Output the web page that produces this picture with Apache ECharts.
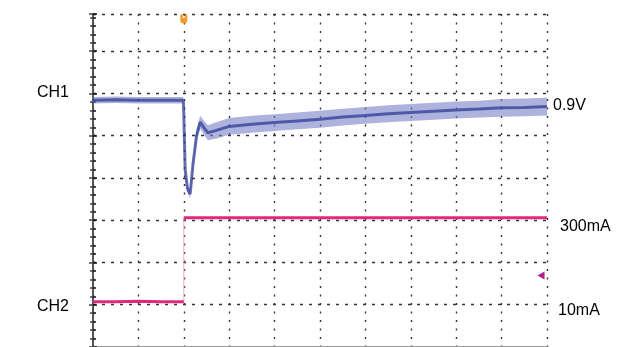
<!DOCTYPE html>
<html>
<head>
<meta charset="utf-8">
<script src="https://cdn.jsdelivr.net/npm/echarts@6/dist/echarts.min.js"></script>
<style>html,body{margin:0;padding:0;background:#fff}#c{width:630px;height:347px}</style>
</head>
<body>
<div id="c"></div>
<script>
// Time in divisions, values in vertical divisions (0 = bottom grid line)
var ch1Time   = [0, 0.5, 1, 1.5, 1.99, 2.0, 2.03, 2.08, 2.14, 2.2, 2.28, 2.36, 2.45, 2.53, 2.7, 3.0, 3.5, 4.0, 4.5, 5.0, 5.5, 6.0, 6.5, 7.0, 7.5, 8.0, 8.5, 9.0, 9.5, 10];
var ch1Center = [5.84, 5.85, 5.84, 5.84, 5.84, 5.5, 4.2, 3.75, 3.62, 4.3, 5.0, 5.32, 5.18, 5.07, 5.12, 5.22, 5.27, 5.31, 5.35, 5.39, 5.44, 5.48, 5.52, 5.55, 5.58, 5.61, 5.63, 5.66, 5.67, 5.69];
var ch1Half   = [0.075, 0.075, 0.075, 0.075, 0.075, 0.03, 0.05, 0.08, 0.1, 0.11, 0.13, 0.15, 0.17, 0.18, 0.19, 0.2, 0.2, 0.2, 0.2, 0.2, 0.2, 0.2, 0.2, 0.2, 0.2, 0.2, 0.2, 0.21, 0.21, 0.21];
var ch2PreTime = [0, 0.5, 1, 1.5, 2.0];
var ch2PreVal  = [1.07, 1.07, 1.08, 1.07, 1.07];
var ch2PostTime = [2.0, 3, 4, 5, 6, 7, 8, 9, 10];
var ch2PostVal  = [3.06, 3.06, 3.06, 3.06, 3.06, 3.06, 3.06, 3.06, 3.06];
var triggerTime = 2.0;
var ch2RefLevel = 1.69;
var xMin = 0, xMax = 10, yMin = 0, yMax = 7.88;
var leftLabels = [['CH1', 6.02], ['CH2', 1.0]];
var rightLabels = [['0.9V', 5.72], ['300mA', 2.89], ['10mA', 0.91]];

var pair = function (t, v) { return t.map(function (x, i) { return [x, v[i]]; }); };
var ch2Step = [[ch2PreTime[ch2PreTime.length - 1], ch2PreVal[ch2PreVal.length - 1]], [ch2PostTime[0], ch2PostVal[0]]];

var chart = echarts.init(document.getElementById('c'), null, {renderer: 'canvas'});
var grid = {left: 93, right: 83, top: 14, bottom: -2};
var gridH = 347 + 2 - 14;
function yPix(v) { return 14 + gridH * (1 - (v - yMin) / (yMax - yMin)); }

var font = '16px "Liberation Sans", Arial, sans-serif';
var graphics = [];
leftLabels.forEach(function (l) {
  graphics.push({type: 'text', x: 37, y: yPix(l[1]), style: {text: l[0], font: font, fill: '#000', verticalAlign: 'middle'}});
});
var rightX = [553, 560, 558];
rightLabels.forEach(function (l, i) {
  graphics.push({type: 'text', x: rightX[i], y: yPix(l[1]), style: {text: l[0], font: font, fill: '#000', verticalAlign: 'middle'}});
});

function bandItem(params, api) {
  if (params.dataIndex !== 0) return;
  var up = [], lo = [];
  for (var i = 0; i < ch1Time.length; i++) {
    up.push(api.coord([ch1Time[i], ch1Center[i] + ch1Half[i]]));
    lo.push(api.coord([ch1Time[i], ch1Center[i] - ch1Half[i]]));
  }
  var pts = up.concat(lo.reverse());
  return {type: 'polygon', shape: {points: pts}, style: {fill: '#7880c8', opacity: 0.6}, silent: true};
}

var option = {
  animation: false,
  backgroundColor: '#fff',
  grid: grid,
  graphic: graphics,
  xAxis: [{
    type: 'value', min: xMin, max: xMax, interval: 1, position: 'bottom',
    axisLine: {show: false}, axisTick: {show: false}, axisLabel: {show: false},
    splitLine: {show: true, lineStyle: {color: '#333', width: 1.4, type: [2, 6.5]}}
  }, {
    type: 'value', min: xMin, max: xMax, interval: 1, position: 'top',
    axisLine: {show: true, lineStyle: {color: '#999', width: 2}}, axisTick: {show: false}, axisLabel: {show: false},
    splitLine: {show: false}
  }],
  yAxis: [{
    type: 'value', min: yMin, max: yMax, interval: 1, position: 'left',
    axisLine: {show: true, lineStyle: {color: '#111', width: 2}},
    axisTick: {show: true, inside: true, length: 4, lineStyle: {color: '#111', width: 1.5}},
    minorTick: {show: true, splitNumber: 5, length: 3, lineStyle: {color: '#111', width: 1.5}},
    axisLabel: {show: false},
    splitLine: {show: true, lineStyle: {color: '#333', width: 1.4, type: [3, 6]}}
  }, {
    type: 'value', min: yMin, max: yMax, interval: 1, position: 'right',
    axisLine: {show: true, lineStyle: {color: '#555', width: 2}},
    axisTick: {show: true, inside: true, length: 4, lineStyle: {color: '#444', width: 1.5}},
    minorTick: {show: true, splitNumber: 5, length: 3, lineStyle: {color: '#444', width: 1.5}},
    axisLabel: {show: false}, splitLine: {show: false}
  }],
  series: [
    {type: 'custom', name: 'ch1Band', data: pair(ch1Time, ch1Center), renderItem: bandItem, silent: true, clip: true},
    {type: 'line', name: 'CH1', data: pair(ch1Time, ch1Center), symbol: 'none',
     lineStyle: {color: '#27358e', width: 3, opacity: 0.7}},
    {type: 'line', name: 'CH2 step', data: ch2Step, symbol: 'none',
     lineStyle: {color: '#f4a6cc', width: 1}},
    {type: 'line', name: 'CH2 pre', data: pair(ch2PreTime, ch2PreVal), symbol: 'none',
     lineStyle: {color: '#e0287c', width: 3}},
    {type: 'line', name: 'CH2 post', data: pair(ch2PostTime, ch2PostVal), symbol: 'none',
     lineStyle: {color: '#e0287c', width: 3},
     markPoint: {
       silent: true,
       data: [
         {coord: [triggerTime, yMax], symbol: 'path://M0,0 H3 V4 H5 V0 H8 V7 Q8,10 4,10 Q0,10 0,7 Z', symbolSize: [7, 9], symbolOffset: [0, 5], itemStyle: {color: '#f29a2e'}, label: {show: false}},
         {coord: [xMax, ch2RefLevel], symbol: 'triangle', symbolRotate: 90, symbolSize: [8, 7], symbolOffset: [-6, 0], itemStyle: {color: '#b01f90'}, label: {show: false}}
       ]
     }}
  ]
};
chart.setOption(option);
</script>
</body>
</html>
